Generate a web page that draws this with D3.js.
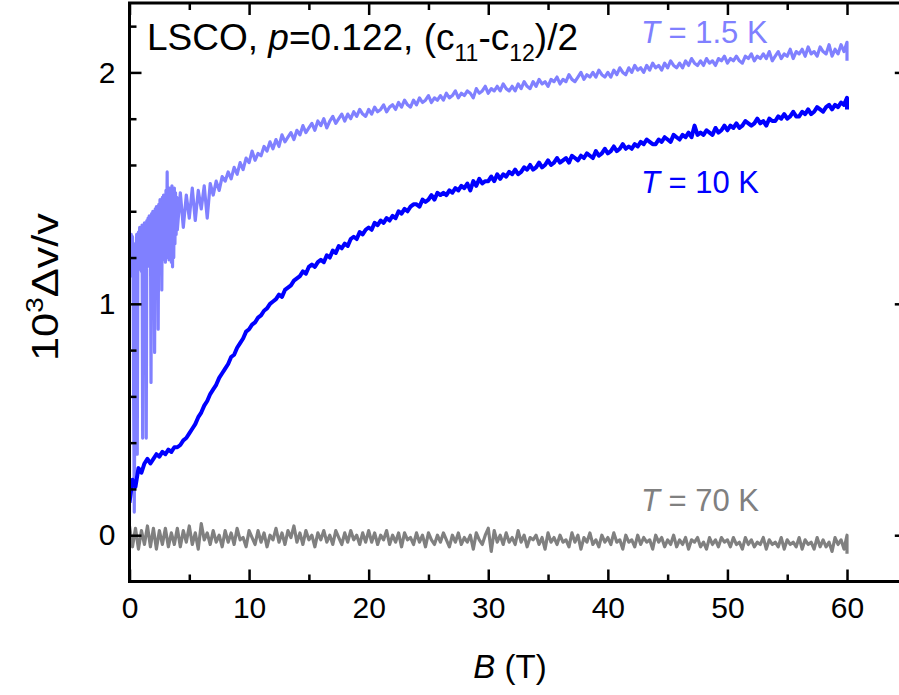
<!DOCTYPE html>
<html><head><meta charset="utf-8">
<script src="https://cdn.jsdelivr.net/npm/d3@7"></script>
<style>body{margin:0;background:#fff}svg{display:block}text{font-family:"Liberation Sans",Arial,sans-serif}</style>
</head><body><svg id="c" width="899" height="695"></svg>
<script>
// ---- data ----
const xMajorTicks=[0,10,20,30,40,50,60];
const xMinorTicks=[5,15,25,35,45,55];
const yMajorTicks=[0,1,2];
const yMinorTicks=[0.2,0.4,0.6,0.8,1.2,1.4,1.6,1.8,2.2];
const seriesColors=["#8080ff","#0000ff","#808080"];

// field grid, 0.25 T steps (last point repeated: end of sweep)
const fieldQuarter=[0,0.25,0.5,0.75,1,1.25,1.5,1.75,2,2.25,2.5,2.75,3,3.25,3.5,3.75,4,4.25,4.5,4.75,5,5.25,5.5,5.75,6,6.25,6.5,6.75,7,7.25,7.5,7.75,8,8.25,8.5,8.75,9,9.25,9.5,9.75,
10,10.25,10.5,10.75,11,11.25,11.5,11.75,12,12.25,12.5,12.75,13,13.25,13.5,13.75,14,14.25,14.5,14.75,15,15.25,15.5,15.75,16,16.25,16.5,16.75,17,17.25,17.5,17.75,18,18.25,18.5,18.75,19,19.25,19.5,19.75,
20,20.25,20.5,20.75,21,21.25,21.5,21.75,22,22.25,22.5,22.75,23,23.25,23.5,23.75,24,24.25,24.5,24.75,25,25.25,25.5,25.75,26,26.25,26.5,26.75,27,27.25,27.5,27.75,28,28.25,28.5,28.75,29,29.25,29.5,29.75,
30,30.25,30.5,30.75,31,31.25,31.5,31.75,32,32.25,32.5,32.75,33,33.25,33.5,33.75,34,34.25,34.5,34.75,35,35.25,35.5,35.75,36,36.25,36.5,36.75,37,37.25,37.5,37.75,38,38.25,38.5,38.75,39,39.25,39.5,39.75,
40,40.25,40.5,40.75,41,41.25,41.5,41.75,42,42.25,42.5,42.75,43,43.25,43.5,43.75,44,44.25,44.5,44.75,45,45.25,45.5,45.75,46,46.25,46.5,46.75,47,47.25,47.5,47.75,48,48.25,48.5,48.75,49,49.25,49.5,49.75,
50,50.25,50.5,50.75,51,51.25,51.5,51.75,52,52.25,52.5,52.75,53,53.25,53.5,53.75,54,54.25,54.5,54.75,55,55.25,55.5,55.75,56,56.25,56.5,56.75,57,57.25,57.5,57.75,58,58.25,58.5,58.75,59,59.25,59.5,59.75,60,60];

// low-field part of the 1.5 K sweep, 0.05 T steps
const fieldLow=[0,0.05,0.1,0.15,0.2,0.25,0.3,0.35,0.4,0.45,0.5,0.55,0.6,0.65,0.7,0.75,0.8,0.85,0.9,0.95,
1,1.05,1.1,1.15,1.2,1.25,1.3,1.35,1.4,1.45,1.5,1.55,1.6,1.65,1.7,1.75,1.8,1.85,1.9,1.95,
2,2.05,2.1,2.15,2.2,2.25,2.3,2.35,2.4,2.45,2.5,2.55,2.6,2.65,2.7,2.75,2.8,2.85,2.9,2.95,
3,3.05,3.1,3.15,3.2,3.25,3.3,3.35,3.4,3.45,3.5,3.55,3.6,3.65,3.7,3.75,3.8,3.85,3.9,3.95];
const dv15Low=[1.13,1.28,1.15,1.30,1.12,1.29,1.16,0.55,0.10,0.60,1.26,1.14,1.30,0.35,1.20,1.31,1.15,1.33,1.17,1.32,
1.14,1.34,0.42,1.30,1.16,1.35,1.18,1.33,0.42,1.36,1.16,1.37,1.19,1.38,1.17,1.36,0.66,1.39,1.18,1.40,
1.17,1.38,0.79,1.41,1.19,1.42,1.18,1.40,0.89,1.43,1.20,1.45,1.17,1.44,1.06,1.46,1.19,1.47,1.21,1.45,
1.18,1.49,1.22,1.57,1.20,1.48,1.19,1.50,1.22,1.47,1.18,1.51,1.16,1.49,1.20,1.50,1.26,1.48,1.30,1.46];
// 1.5 K from 4 T on (0.25 T steps)
const dv15High=[1.32,1.48,1.33,1.47,1.37,1.50,1.36,1.49,
1.41,1.51,1.37,1.52,1.47,1.53,1.49,1.55,
1.53,1.57,1.54,1.59,1.56,1.61,1.58,1.63,
1.61,1.66,1.62,1.65,1.64,1.68,1.66,1.70,
1.67,1.71,1.68,1.73,1.70,1.72,1.74,1.71,
1.75,1.73,1.77,1.74,1.76,1.78,1.75,1.79,
1.77,1.80,1.76,1.79,1.81,1.78,1.80,1.82,
1.79,1.82,1.80,1.83,1.81,1.84,1.82,1.81,
1.84,1.82,1.85,1.83,1.84,1.86,1.83,1.85,
1.86,1.84,1.87,1.85,1.88,1.86,1.85,1.88,
1.86,1.89,1.87,1.88,1.90,1.87,1.89,1.88,
1.90,1.88,1.91,1.89,1.90,1.92,1.89,1.91,
1.90,1.92,1.91,1.89,1.93,1.91,1.92,1.94,
1.91,1.93,1.92,1.94,1.92,1.95,1.93,1.92,
1.94,1.92,1.95,1.93,1.96,1.94,1.93,1.96,
1.94,1.97,1.95,1.96,1.94,1.97,1.96,1.98,
1.95,1.97,1.96,1.99,1.97,1.96,1.98,2.00,
1.97,1.99,1.98,2.00,1.98,2.01,1.99,1.98,
2.00,1.98,2.01,1.99,2.02,2.00,1.99,2.02,
2.00,2.03,2.01,2.02,2.00,2.03,2.01,2.04,
2.02,2.03,2.01,2.04,2.02,2.05,2.03,2.02,
2.04,2.02,2.05,2.03,2.06,2.04,2.03,2.05,
2.03,2.06,2.04,2.05,2.03,2.06,2.05,2.07,
2.04,2.06,2.05,2.07,2.05,2.04,2.07,2.06,
2.08,2.05,2.07,2.06,2.08,2.06,2.09,2.05,
2.07,2.09,2.06,2.08,2.07,2.10,2.06,2.09,
2.08,2.10,2.07,2.11,2.08,2.09,2.07,2.11,
2.09,2.08,2.12,2.07,2.10,2.08,2.12,2.09,
2.13,2.05];

// 10 K sweep (0.25 T steps)
const dv10=[0.14,0.24,0.21,0.29,0.27,0.31,0.33,0.31,
0.33,0.35,0.34,0.36,0.35,0.37,0.36,0.38,
0.38,0.39,0.41,0.42,0.44,0.46,0.48,0.51,
0.53,0.56,0.58,0.61,0.63,0.65,0.68,0.70,
0.72,0.74,0.77,0.78,0.81,0.83,0.85,0.88,
0.89,0.91,0.92,0.94,0.95,0.97,0.98,1.00,
1.01,1.02,1.04,1.03,1.06,1.07,1.08,1.10,
1.11,1.12,1.14,1.13,1.16,1.17,1.16,1.18,
1.19,1.18,1.21,1.20,1.23,1.22,1.25,1.24,
1.26,1.25,1.28,1.29,1.28,1.31,1.30,1.32,
1.33,1.32,1.35,1.34,1.36,1.35,1.37,1.36,
1.38,1.37,1.40,1.39,1.41,1.40,1.42,1.43,
1.43,1.42,1.45,1.44,1.45,1.47,1.45,1.48,
1.47,1.48,1.47,1.49,1.48,1.50,1.49,1.51,
1.50,1.52,1.49,1.53,1.51,1.54,1.52,1.53,
1.53,1.55,1.53,1.56,1.54,1.56,1.55,1.57,
1.56,1.58,1.56,1.57,1.59,1.58,1.60,1.58,
1.59,1.61,1.59,1.60,1.62,1.60,1.61,1.63,
1.61,1.62,1.63,1.61,1.64,1.63,1.62,1.64,
1.63,1.65,1.64,1.63,1.66,1.64,1.65,1.67,
1.65,1.66,1.68,1.66,1.67,1.69,1.67,1.68,
1.67,1.69,1.68,1.70,1.69,1.71,1.70,1.69,
1.69,1.71,1.70,1.72,1.71,1.70,1.73,1.72,
1.71,1.73,1.72,1.74,1.72,1.77,1.73,1.74,
1.73,1.75,1.74,1.73,1.76,1.74,1.75,1.77,
1.75,1.77,1.76,1.78,1.76,1.77,1.79,1.78,
1.77,1.78,1.80,1.78,1.79,1.77,1.80,1.79,
1.79,1.81,1.80,1.82,1.80,1.81,1.83,1.81,
1.81,1.83,1.82,1.84,1.82,1.83,1.85,1.84,
1.83,1.85,1.86,1.84,1.86,1.85,1.87,1.86,
1.89,1.84];

// 70 K sweep (0.25 T steps)
const dv70=[0.04,-0.05,0.03,-0.06,0.02,-0.04,0.04,-0.05,
0.03,-0.06,0.02,-0.04,0.03,-0.05,0.01,-0.04,
0.03,-0.05,0.02,-0.03,0.04,-0.04,0.01,-0.06,
0.05,-0.02,0.01,-0.04,0.02,-0.03,0.00,-0.05,
0.02,-0.03,0.01,-0.04,0.03,-0.02,-0.01,-0.05,
0.02,-0.01,-0.04,0.02,-0.03,0.01,-0.05,0.00,
-0.02,0.03,-0.03,0.01,-0.04,0.02,-0.01,0.04,
-0.03,0.01,-0.04,0.02,-0.02,0.00,-0.05,0.01,
-0.02,0.02,-0.03,0.00,-0.04,0.02,-0.01,-0.04,
0.01,-0.03,0.02,-0.02,0.00,-0.04,0.01,-0.03,
0.02,-0.03,0.01,-0.04,0.00,-0.02,0.02,-0.04,
0.00,-0.03,0.01,-0.05,0.01,-0.02,-0.01,-0.04,
0.01,-0.03,0.00,-0.05,0.01,-0.02,-0.04,0.00,
-0.03,0.01,-0.02,-0.05,0.00,-0.03,0.01,-0.04,
-0.01,-0.03,0.00,-0.06,0.01,-0.02,-0.04,0.00,
0.03,-0.07,0.02,-0.03,0.00,-0.04,0.01,-0.03,
-0.01,-0.04,0.02,-0.03,0.00,-0.05,-0.01,-0.02,
0.00,-0.04,-0.01,-0.06,0.01,-0.03,-0.01,-0.04,
0.00,-0.03,-0.02,-0.05,0.01,-0.03,0.00,-0.06,
-0.01,-0.03,0.01,-0.04,-0.02,-0.05,0.00,-0.03,
-0.01,-0.04,0.01,-0.03,-0.02,-0.06,0.00,-0.03,
-0.02,-0.05,0.00,-0.04,-0.01,-0.03,-0.02,-0.06,
0.00,-0.03,-0.01,-0.05,-0.02,-0.04,0.00,-0.05,
-0.02,-0.04,-0.01,-0.06,-0.02,-0.03,-0.01,-0.05,
-0.03,-0.06,-0.01,-0.04,-0.02,-0.05,-0.01,-0.03,
-0.02,-0.05,-0.01,-0.04,-0.03,-0.06,-0.01,-0.04,
-0.02,-0.05,-0.03,-0.04,-0.01,-0.06,-0.02,-0.04,
-0.03,-0.05,-0.01,-0.06,-0.02,-0.04,-0.03,-0.05,
-0.01,-0.06,-0.02,-0.04,-0.03,-0.06,-0.01,-0.05,
-0.02,-0.05,-0.03,-0.07,-0.01,-0.04,-0.02,-0.06,
0.00,-0.08];

// ---- chart ----
const svg=d3.select("#c");
const X0=129.5, X1=906.8, Y0=581.5, Y1=3;
const x=d3.scaleLinear().domain([0,65]).range([X0,X1]);
const y=d3.scaleLinear().domain([-0.2,2.3]).range([Y0,Y1]);

const line=d3.line().x(d=>x(d[0])).y(d=>y(d[1]));
function pairs(f,v){return v.map((val,i)=>[f[i],val]);}
const field15=fieldLow.concat(fieldQuarter.slice(16));
const dv15=dv15Low.concat(dv15High);

svg.append("clipPath").attr("id","pc").append("rect")
  .attr("x",X0).attr("y",Y1).attr("width",X1-X0).attr("height",Y0-Y1);
const plot=svg.append("g").attr("clip-path","url(#pc)");
plot.append("path").datum(pairs(fieldQuarter,dv70)).attr("d",line)
  .attr("fill","none").attr("stroke",seriesColors[2]).attr("stroke-width",3.2).attr("stroke-linejoin","round");
plot.append("path").datum(pairs(field15,dv15)).attr("d",line)
  .attr("fill","none").attr("stroke",seriesColors[0]).attr("stroke-width",3.2).attr("stroke-linejoin","round");
plot.append("path").datum(pairs(fieldQuarter,dv10)).attr("d",line)
  .attr("fill","none").attr("stroke",seriesColors[1]).attr("stroke-width",4).attr("stroke-linejoin","round");

// axes
const fs=30;
function styleAxis(g){g.select(".domain").remove();g.selectAll("line").attr("stroke","#000").attr("stroke-width",2.5);
  g.selectAll("text").attr("font-size",fs).attr("fill","#000").attr("font-family","Liberation Sans, Arial, sans-serif");}

svg.append("g").attr("transform",`translate(0,${Y0})`)
  .call(d3.axisBottom(x).tickValues(xMajorTicks).tickSize(-12).tickPadding(15).tickFormat(d3.format("d"))).call(styleAxis);
svg.append("g").attr("transform",`translate(0,${Y0})`)
  .call(d3.axisBottom(x).tickValues(xMinorTicks).tickSize(-7).tickFormat("")).call(styleAxis);
svg.append("g").attr("transform",`translate(0,${Y1})`)
  .call(d3.axisTop(x).tickValues(xMajorTicks).tickSize(-12).tickFormat("")).call(styleAxis);
svg.append("g").attr("transform",`translate(0,${Y1})`)
  .call(d3.axisTop(x).tickValues(xMinorTicks).tickSize(-7).tickFormat("")).call(styleAxis);
svg.append("g").attr("transform",`translate(${X0},0)`)
  .call(d3.axisLeft(y).tickValues(yMajorTicks).tickSize(-12).tickPadding(14).tickFormat(d3.format("d"))).call(styleAxis);
svg.append("g").attr("transform",`translate(${X0},0)`)
  .call(d3.axisLeft(y).tickValues(yMinorTicks).tickSize(-7).tickFormat("")).call(styleAxis);
svg.append("g").attr("transform",`translate(${X1},0)`)
  .call(d3.axisRight(y).tickValues(yMajorTicks).tickSize(-12).tickFormat("")).call(styleAxis);
svg.append("g").attr("transform",`translate(${X1},0)`)
  .call(d3.axisRight(y).tickValues(yMinorTicks).tickSize(-7).tickFormat("")).call(styleAxis);

svg.append("rect").attr("x",X0).attr("y",Y1).attr("width",X1-X0).attr("height",Y0-Y1)
  .attr("fill","none").attr("stroke","#000").attr("stroke-width",3);

// title
const t=svg.append("text").attr("x",147).attr("y",50).attr("font-size",37).attr("fill","#000");
t.append("tspan").text("LSCO, ");
t.append("tspan").attr("font-style","italic").text("p");
t.append("tspan").text("=0.122, (c");
t.append("tspan").attr("font-size",23).attr("dy",11).text("11");
t.append("tspan").attr("dy",-11).text("-c");
t.append("tspan").attr("font-size",23).attr("dy",11).text("12");
t.append("tspan").attr("dy",-11).text(")/2");

// series labels
function tlabel(xp,yp,rest,col){
  const s=svg.append("text").attr("x",xp).attr("y",yp).attr("font-size",31).attr("fill",col);
  s.append("tspan").attr("font-style","italic").text("T");
  s.append("tspan").text(rest);
}
tlabel(641,43," = 1.5 K",seriesColors[0]);
tlabel(641,193," = 10 K",seriesColors[1]);
tlabel(641,511," = 70 K",seriesColors[2]);

// axis titles
const xl=svg.append("text").attr("x",510).attr("y",678).attr("text-anchor","middle").attr("font-size",33).attr("fill","#000");
xl.append("tspan").attr("font-style","italic").text("B");
xl.append("tspan").text(" (T)");

const yl=svg.append("text").attr("transform","translate(58,287) rotate(-90)").attr("text-anchor","middle")
  .attr("font-size",36).attr("fill","#000").attr("textLength",148).attr("lengthAdjust","spacingAndGlyphs");
yl.append("tspan").text("10");
yl.append("tspan").attr("font-size",23).attr("dy",-15).text("3");
yl.append("tspan").attr("dy",15).text("Δv/v");
</script></body></html>
